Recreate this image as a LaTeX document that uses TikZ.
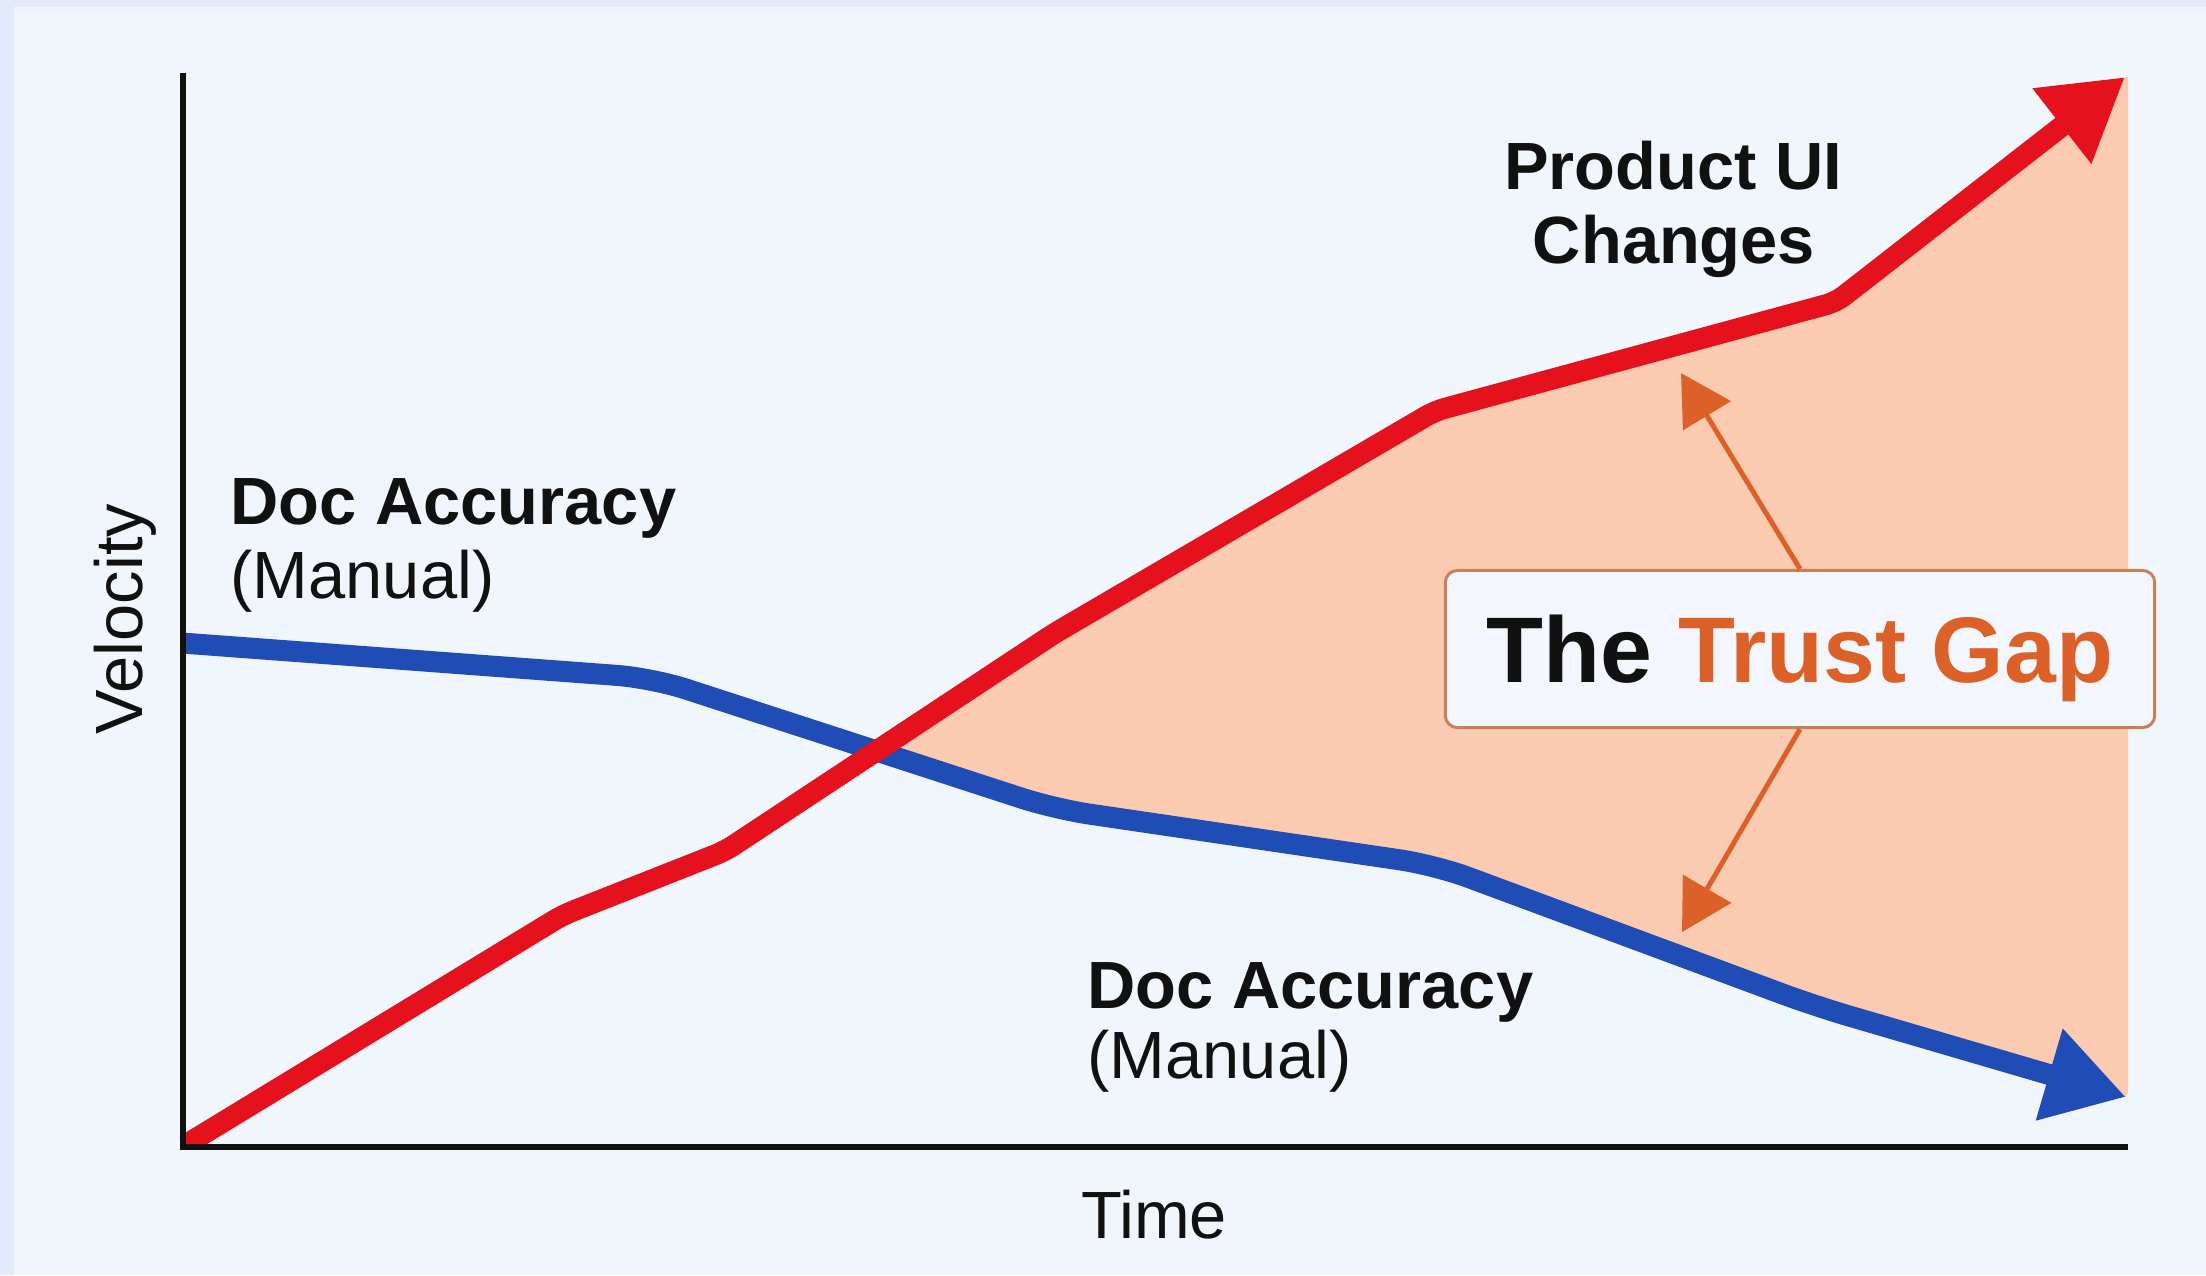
\documentclass[tikz,border=0pt]{standalone}
\usepackage{fontspec}
\setmainfont{Liberation Sans}
\usetikzlibrary{arrows.meta}
\definecolor{outerbg}{HTML}{E1E9FB}
\definecolor{innerbg}{HTML}{F1F6FD}
\definecolor{gapfill}{HTML}{FACBB1}
\definecolor{redline}{HTML}{E5111C}
\definecolor{blueline}{HTML}{1F4DB5}
\definecolor{gaporange}{HTML}{DC6128}
\definecolor{boxedge}{HTML}{C5825A}
\definecolor{boxfill}{HTML}{F3F6FC}
\definecolor{ink}{HTML}{111111}
\begin{document}
\begin{tikzpicture}[x=0.01cm,y=-0.01cm,
  trendline/.style={line width=0.21cm, line join=round, -{Triangle[length=0.8cm,width=0.9cm]}},
  txt/.style={font=\fontsize{19}{23}\selectfont, text=ink, inner sep=0pt},
  boldtxt/.style={font=\fontsize{19}{23}\selectfont\bfseries, text=ink, inner sep=0pt},
  gaparrow/.style={draw=gaporange, line width=0.05cm, -{Triangle[length=0.5cm,width=0.55cm]}},
  axisline/.style={draw=ink, line width=0.06cm}
]
\useasboundingbox (0,0) rectangle (2206,1275);
\fill[outerbg] (0,0) rectangle (2206,1275);
\fill[innerbg] (14,7) rectangle (2206,1275);

% data points
\coordinate (r0) at (182,1147);
\coordinate (r1) at (563,915);
\coordinate (r2) at (725,851);
\coordinate (r3) at (1055,633);
\coordinate (r4) at (1435,411);
\coordinate (r5) at (1836,302);
\coordinate (r6) at (2125,77);
\coordinate (b0) at (182,643);
\coordinate (b1) at (652,678);
\coordinate (b2) at (1055,809);
\coordinate (b3) at (1435,865);
\coordinate (b4) at (1815,1006);
\coordinate (b5) at (2126,1097);
\coordinate (cross) at (876,751);
\coordinate (ytop) at (183,73);
\coordinate (orig) at (183,1147);
\coordinate (xend) at (2128,1147);

% gap area
\fill[gapfill] (cross) -- (r3) -- (r4) -- (r5) -- (r6) -- (2128,77) -- (2128,1092) -- (b5) -- (b4) -- (b3) -- (b2) -- cycle;

% lines
\draw[trendline, draw=blueline, rounded corners=0.35cm] (b0) -- (b1) -- (b2) -- (b3) -- (b4) -- (b5);
\begin{scope}
\clip (183,0) rectangle (2206,1147);
\draw[trendline, draw=redline, rounded corners=0.1cm] (r0) -- (r1) -- (r2) -- (r3) -- (r4) -- (r5) -- (r6);
\end{scope}

% axes
\draw[axisline] (ytop) -- (orig) -- (xend);

% trust gap box
\node[draw=boxedge, fill=boxfill, line width=0.03cm, rounded corners=0.12cm,
      minimum width=7.09cm, minimum height=1.57cm, inner sep=0pt] (gapbox) at (1800,649) {};
\coordinate (uptip) at (1681,373);
\coordinate (downtip) at (1682,932);
\draw[gaparrow] (gapbox.north) -- (uptip);
\draw[gaparrow] (gapbox.south) -- (downtip);
\node[anchor=base, inner sep=0pt, text=ink, font=\fontsize{26.5}{30}\selectfont\bfseries] (gaptext) at (1800,682) {The \textcolor{gaporange}{Trust Gap}};

% labels
\node[boldtxt, anchor=base west] (docA1) at (230,524) {Doc Accuracy};
\node[txt, anchor=base west] (docA2) at (230,598) {(Manual)};
\node[boldtxt, anchor=base west] (docB1) at (1087,1008) {Doc Accuracy};
\node[txt, anchor=base west] (docB2) at (1087,1078) {(Manual)};
\node[boldtxt, anchor=base] (prod1) at (1673,189) {Product UI};
\node[boldtxt, anchor=base] (prod2) at (1674,263) {Changes};
\node[txt, anchor=base, rotate=90] (vel) at (142,619) {Velocity};
\node[txt, anchor=base] (time) at (1154,1238) {Time};
\end{tikzpicture}
\end{document}
